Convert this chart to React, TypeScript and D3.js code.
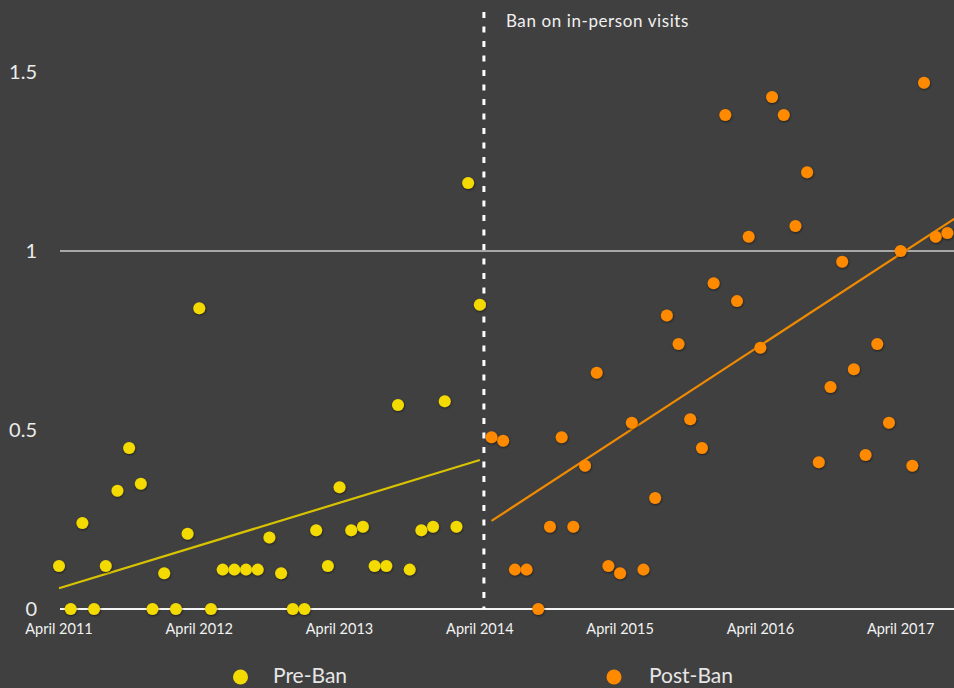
import React from "react";
import * as d3 from "d3";

// ---- data ----
const preBanValues = [0.12, 0, 0.24, 0, 0.12, 0.33, 0.45, 0.35, 0, 0.1, 0, 0.21, 0.84, 0, 0.11, 0.11, 0.11, 0.11, 0.2, 0.1, 0, 0, 0.22, 0.12, 0.34, 0.22, 0.23, 0.12, 0.12, 0.57, 0.11, 0.22, 0.23, 0.58, 0.23, 1.19, 0.85];
const preBanStartMonth = 0; // April 2011
const postBanValues = [0.48, 0.47, 0.11, 0.11, 0, 0.23, 0.48, 0.23, 0.4, 0.66, 0.12, 0.1, 0.52, 0.11, 0.31, 0.82, 0.74, 0.53, 0.45, 0.91, 1.38, 0.86, 1.04, 0.73, 1.43, 1.38, 1.07, 1.22, 0.41, 0.62, 0.97, 0.67, 0.43, 0.74, 0.52, 1.0, 0.4, 1.47, 1.04, 1.05];
const postBanStartMonth = 37; // May 2014
const preTrend = [{ m: 0, v: 0.058 }, { m: 36, v: 0.416 }];
const postTrend = [{ m: 37, v: 0.246 }, { m: 78, v: 1.12 }];
const xTickMonths = [0, 12, 24, 36, 48, 60, 72];
const xTickLabels = ["April 2011", "April 2012", "April 2013", "April 2014", "April 2015", "April 2016", "April 2017"];
const yTicks = [0, 0.5, 1, 1.5];
const yTickLabels = ["0", "0.5", "1", "1.5"];
const banMonth = 36.35;
const banLabel = "Ban on in-person visits";
const seriesNames = ["Pre-Ban", "Post-Ban"];

const W = 954;
const H = 688;
const BG = "#404040";
const YELLOW = "#f3da00";
const ORANGE = "#ff8a00";
const FONT = "Lato, 'Open Sans', sans-serif";

export default function App() {
  const x = d3.scaleLinear().domain([0, 76]).range([59, 947.4]);
  const y = d3.scaleLinear().domain([0, 1.5]).range([609, 72]);
  const line = d3
    .line<{ m: number; v: number }>()
    .x((d) => x(d.m))
    .y((d) => y(d.v));

  const pre = preBanValues.map((v, i) => ({ m: preBanStartMonth + i, v }));
  const post = postBanValues.map((v, i) => ({ m: postBanStartMonth + i, v }));
  const x0 = 60;

  return (
    <>
      <style>{"body{margin:0;background:" + BG + "}"}</style>
      <svg width={W} height={H} style={{ display: "block", background: BG }} fontFamily={FONT}>
        <defs>
          <filter id="sh" x="-50%" y="-50%" width="200%" height="200%">
            <feDropShadow dx="0.5" dy="1" stdDeviation="0.8" floodColor="#000" floodOpacity="0.55" />
          </filter>
          <clipPath id="plot">
            <rect x={0} y={0} width={W} height={H} />
          </clipPath>
        </defs>
        <rect width={W} height={H} fill={BG} />

        {/* reference line at 1 */}
        <line x1={x0} x2={W} y1={y(1)} y2={y(1)} stroke="#a8a8a8" strokeWidth={2} />
        {/* x axis baseline */}
        <line x1={x0} x2={W} y1={y(0)} y2={y(0)} stroke="#f4f4f4" strokeWidth={2.2} />

        {/* ban line */}
        <line
          x1={x(banMonth)}
          x2={x(banMonth)}
          y1={12}
          y2={y(0)}
          stroke="#ffffff"
          strokeWidth={3}
          strokeDasharray="6 8.5"
        />
        <text x={x(banMonth) + 22} y={27} fill="#f0f0f0" fontSize={17} letterSpacing={0.6}>
          {banLabel}
        </text>

        {/* y tick labels */}
        {yTicks.map((t, i) => (
          <text key={t} x={37} y={y(t)} dy="0.36em" textAnchor="end" fill="#ececec" fontSize={20}>
            {yTickLabels[i]}
          </text>
        ))}

        {/* x tick labels */}
        {xTickMonths.map((m, i) => (
          <text key={m} x={x(m)} y={634} textAnchor="middle" fill="#f2f2f2" fontSize={14.5}>
            {xTickLabels[i]}
          </text>
        ))}

        {/* trend lines */}
        <g clipPath="url(#plot)">
          <path d={line(preTrend) || ""} fill="none" stroke="#d9c300" strokeWidth={2.2} />
          <path d={line(postTrend) || ""} fill="none" stroke="#f08a00" strokeWidth={2.2} />
        </g>

        {/* points */}
        <g filter="url(#sh)">
          {pre.map((d) => (
            <circle key={"a" + d.m} cx={x(d.m)} cy={y(d.v)} r={6} fill={YELLOW} />
          ))}
          {post.map((d) => (
            <circle key={"b" + d.m} cx={x(d.m)} cy={y(d.v)} r={6} fill={ORANGE} />
          ))}
        </g>

        {/* legend */}
        <g>
          <circle cx={240.5} cy={677} r={7.5} fill={YELLOW} />
          <text x={273} y={683} fill="#e6e6e6" fontSize={21}>
            {seriesNames[0]}
          </text>
          <circle cx={614} cy={677} r={7.5} fill={ORANGE} />
          <text x={649} y={683} fill="#e6e6e6" fontSize={21}>
            {seriesNames[1]}
          </text>
        </g>
      </svg>
    </>
  );
}
